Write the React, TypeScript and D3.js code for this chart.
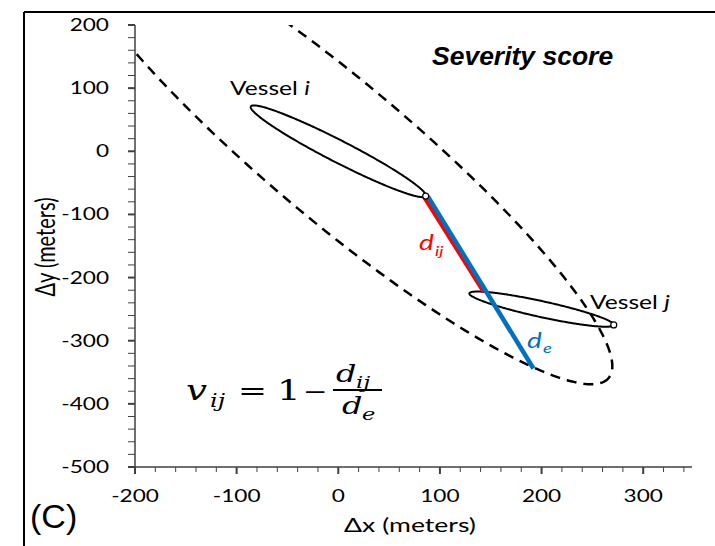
import React from "react"
import * as d3 from "d3"

const W = 715
const H = 546
const margin = { left: 135, top: 25, right: 23, bottom: 79 }

// axes
const xDomain = [-200, 348]
const yDomain = [-500, 200]
const xTickValues = [-200, -100, 0, 100, 200, 300]
const yTickValues = [200, 100, 0, -100, -200, -300, -400, -500]
const minorStep = 20

// ellipses: centre, major semi-diameter, conjugate minor semi-diameter (data units)
const ellipseNames = ["Vessel i", "Vessel j", "domain"]
const ellipseCenters = [[0, 0], [200, -250], [0, 0]]
const ellipseMajor = [[86, -71], [71, -25], [266, -359]]
const ellipseMinor = [[-4.9, -15.5], [-1.7, -12.3], [-44, -85]]

// vessel tips and the two distances
const tipPoints = [[86, -71], [271, -275]]
const dijSegment = [[86, -71], [145, -222]]
const deSegment = [[86, -71], [190, -344]]

const SX = 1.33
const sansFont = "Lato, 'Open Sans', sans-serif"
const mathFont = "'DejaVu Serif', 'Liberation Serif', serif"
const RED = "#ff0000"
const BLUE = "#0070c0"

const st = (x: number, y: number, s = SX) => `translate(${x},${y}) scale(${s},1)`

export default function App() {
  const x = d3.scaleLinear().domain(xDomain).range([margin.left, W - margin.right])
  const y = d3.scaleLinear().domain(yDomain).range([H - margin.bottom, margin.top])

  const line = d3.line<number[]>().x(d => x(d[0])).y(d => y(d[1]))
  const closed = d3.line<number[]>().x(d => x(d[0])).y(d => y(d[1])).curve(d3.curveLinearClosed)

  const ellipsePath = (i: number) => {
    const c = ellipseCenters[i], u = ellipseMajor[i], v = ellipseMinor[i]
    const pts = d3.range(0, 360, 1).map(a => {
      const t = (a * Math.PI) / 180
      return [c[0] + u[0] * Math.cos(t) + v[0] * Math.sin(t), c[1] + u[1] * Math.cos(t) + v[1] * Math.sin(t)]
    })
    return closed(pts) as string
  }

  const xMinor = d3.range(xDomain[0], xDomain[1], minorStep).filter(d => xTickValues.indexOf(d) < 0)
  const yMinor = d3.range(yDomain[0], yDomain[1] + 1, minorStep).filter(d => yTickValues.indexOf(d) < 0)

  const x0 = margin.left, x1 = W - margin.right
  const y0 = margin.top, y1 = H - margin.bottom
  const axisColor = "#404040"

  return (
    <svg width={W} height={H} style={{ position: "absolute", left: 0, top: 0, background: "#fff" }}>
      <defs>
        <clipPath id="plot-clip">
          <rect x={x0} y={y0} width={x1 - x0} height={y1 - y0} />
        </clipPath>
      </defs>

      {/* frame */}
      <line x1={24} y1={12} x2={W} y2={12} stroke="#000" strokeWidth={2} />
      <line x1={24} y1={12} x2={24} y2={H} stroke="#000" strokeWidth={2} />

      {/* axes */}
      <line x1={x0} y1={y1} x2={x1} y2={y1} stroke={axisColor} strokeWidth={1.5} />
      <line x1={x0} y1={y0} x2={x0} y2={y1} stroke={axisColor} strokeWidth={1.5} />
      {xMinor.map(d => (
        <line key={"xm" + d} x1={x(d)} x2={x(d)} y1={y1} y2={y1 + 5} stroke={axisColor} strokeWidth={1} />
      ))}
      {xTickValues.map(d => (
        <line key={"xM" + d} x1={x(d)} x2={x(d)} y1={y1} y2={y1 + 7} stroke={axisColor} strokeWidth={2} />
      ))}
      {yMinor.map(d => (
        <line key={"ym" + d} x1={x0 - 7} x2={x0} y1={y(d)} y2={y(d)} stroke={axisColor} strokeWidth={1} />
      ))}
      {yTickValues.map(d => (
        <line key={"yM" + d} x1={x0 - 7} x2={x0} y1={y(d)} y2={y(d)} stroke={axisColor} strokeWidth={2} />
      ))}
      {xTickValues.map(d => (
        <text key={"xl" + d} transform={st(x(d), 502)} textAnchor="middle" fontFamily={sansFont} fontSize={17} fill="#000">
          {d}
        </text>
      ))}
      {yTickValues.map(d => (
        <text key={"yl" + d} transform={st(109, y(d) + 6)} textAnchor="end" fontFamily={sansFont} fontSize={17} fill="#000">
          {d}
        </text>
      ))}
      <text transform={st(410, 532)} textAnchor="middle" fontFamily={sansFont} fontSize={20}>
        Δx (meters)
      </text>
      <text transform={`translate(55,247) scale(${SX},1) rotate(-90)`} textAnchor="middle" fontFamily={sansFont} fontSize={20}>
        Δy (meters)
      </text>

      {/* ellipses */}
      <g clipPath="url(#plot-clip)">
        <path d={ellipsePath(2)} fill="none" stroke="#000" strokeWidth={2.5} strokeDasharray="10,7" />
        <path d={ellipsePath(0)} fill="none" stroke="#000" strokeWidth={2} />
        <path d={ellipsePath(1)} fill="none" stroke="#000" strokeWidth={2} />
        <path d={line(dijSegment) as string} transform="translate(-2,0)" stroke={RED} strokeWidth={4.5} fill="none" />
        <path d={line(deSegment) as string} transform="translate(2,0)" stroke={BLUE} strokeWidth={4.5} fill="none" />
        {tipPoints.map((p, i) => (
          <circle key={"tip" + i} cx={x(p[0])} cy={y(p[1])} r={3} fill="#fff" stroke="#000" strokeWidth={1.2} />
        ))}
      </g>

      {/* labels */}
      <text transform={st(230, 95)} fontFamily={sansFont} fontSize={18.5}>
        Vessel <tspan fontStyle="italic">i</tspan>
      </text>
      <text transform={st(590, 309)} fontFamily={sansFont} fontSize={18.5}>
        Vessel <tspan fontStyle="italic">j</tspan>
      </text>
      <text transform={st(419, 250)} fontFamily={sansFont} fontSize={21} fontStyle="italic" fill={RED}>
        d
      </text>
      <text transform={st(435, 256)} fontFamily={sansFont} fontSize={14} fontStyle="italic" fill={RED}>
        ij
      </text>
      <text transform={st(527, 348)} fontFamily={sansFont} fontSize={21} fontStyle="italic" fill={BLUE}>
        d
      </text>
      <text transform={st(543, 353)} fontFamily={sansFont} fontSize={14} fontStyle="italic" fill={BLUE}>
        e
      </text>

      <text transform={st(432, 65, 1.06)} fontFamily="'Liberation Sans', Arial, sans-serif" fontSize={25} fontWeight="bold" fontStyle="italic">
        Severity score
      </text>
      <text x={30} y={528} fontFamily="'Liberation Sans', Arial, sans-serif" fontSize={34}>
        (C)
      </text>

      {/* formula */}
      <text transform={st(186, 400)} fontFamily={mathFont} fontSize={28} fontStyle="italic">v</text>
      <text transform={st(210, 407)} fontFamily={mathFont} fontSize={18} fontStyle="italic">ij</text>
      <text transform={st(238, 400)} fontFamily={mathFont} fontSize={26}>=</text>
      <text transform={st(277, 400)} fontFamily={mathFont} fontSize={28}>1</text>
      <text transform={st(303, 399)} fontFamily={mathFont} fontSize={22}>−</text>
      <line x1={333} x2={382} y1={390} y2={390} stroke="#000" strokeWidth={1.8} />
      <text transform={st(336, 382)} fontFamily={mathFont} fontSize={24} fontStyle="italic">d</text>
      <text transform={st(356, 388)} fontFamily={mathFont} fontSize={17} fontStyle="italic">ij</text>
      <text transform={st(342, 414)} fontFamily={mathFont} fontSize={24} fontStyle="italic">d</text>
      <text transform={st(362, 420)} fontFamily={mathFont} fontSize={17} fontStyle="italic">e</text>
    </svg>
  )
}
